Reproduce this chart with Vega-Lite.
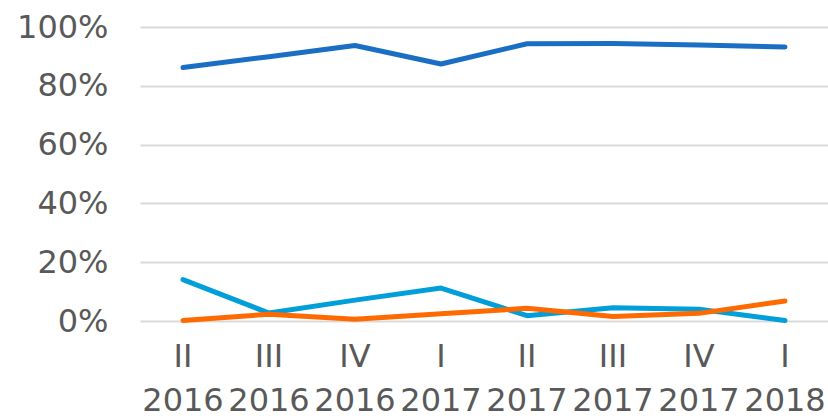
{
  "$schema": "https://vega.github.io/schema/vega-lite/v6.json",
  "width": 688,
  "height": 294,
  "autosize": {"type": "none"},
  "padding": {"left": 140, "top": 27, "right": 0, "bottom": 99},
  "background": "white",
  "config": {"view": {"stroke": null}, "font": "DejaVu Sans"},
  "data": {
    "values": [
      {"q": "II 2016", "s": "A", "v": 0.862},
      {"q": "III 2016", "s": "A", "v": 0.899},
      {"q": "IV 2016", "s": "A", "v": 0.937},
      {"q": "I 2017", "s": "A", "v": 0.874},
      {"q": "II 2017", "s": "A", "v": 0.943},
      {"q": "III 2017", "s": "A", "v": 0.944},
      {"q": "IV 2017", "s": "A", "v": 0.939},
      {"q": "I 2018", "s": "A", "v": 0.932},
      {"q": "II 2016", "s": "B", "v": 0.141},
      {"q": "III 2016", "s": "B", "v": 0.027},
      {"q": "IV 2016", "s": "B", "v": 0.071},
      {"q": "I 2017", "s": "B", "v": 0.112},
      {"q": "II 2017", "s": "B", "v": 0.018},
      {"q": "III 2017", "s": "B", "v": 0.045},
      {"q": "IV 2017", "s": "B", "v": 0.040},
      {"q": "I 2018", "s": "B", "v": 0.002},
      {"q": "II 2016", "s": "C", "v": 0.002},
      {"q": "III 2016", "s": "C", "v": 0.023},
      {"q": "IV 2016", "s": "C", "v": 0.006},
      {"q": "I 2017", "s": "C", "v": 0.025},
      {"q": "II 2017", "s": "C", "v": 0.043},
      {"q": "III 2017", "s": "C", "v": 0.015},
      {"q": "IV 2017", "s": "C", "v": 0.026},
      {"q": "I 2018", "s": "C", "v": 0.068}
    ]
  },
  "mark": {"type": "line", "strokeWidth": 5, "strokeCap": "round", "strokeJoin": "round"},
  "encoding": {
    "x": {
      "field": "q",
      "type": "ordinal",
      "sort": null,
      "scale": {"type": "band", "paddingInner": 0, "paddingOuter": 0},
      "axis": {
        "title": null,
        "labelAngle": 0,
        "domain": false,
        "ticks": false,
        "labelExpr": "split(datum.label, ' ')",
        "labelFontSize": 32,
        "labelColor": "#595959",
        "labelLineHeight": 44,
        "labelPadding": 20,
        "labelBaseline": "top"
      }
    },
    "y": {
      "field": "v",
      "type": "quantitative",
      "scale": {"domain": [0, 1], "nice": false},
      "axis": {
        "title": null,
        "values": [0, 0.2, 0.4, 0.6, 0.8, 1],
        "format": ".0%",
        "domain": false,
        "ticks": false,
        "gridColor": "#D9D9D9",
        "gridWidth": 2,
        "labelFontSize": 32,
        "labelColor": "#595959",
        "labelPadding": 32
      }
    },
    "color": {
      "field": "s",
      "type": "nominal",
      "scale": {"domain": ["A", "B", "C"], "range": ["#1A6FC4", "#009FDA", "#FF6A00"]},
      "legend": null
    }
  }
}
